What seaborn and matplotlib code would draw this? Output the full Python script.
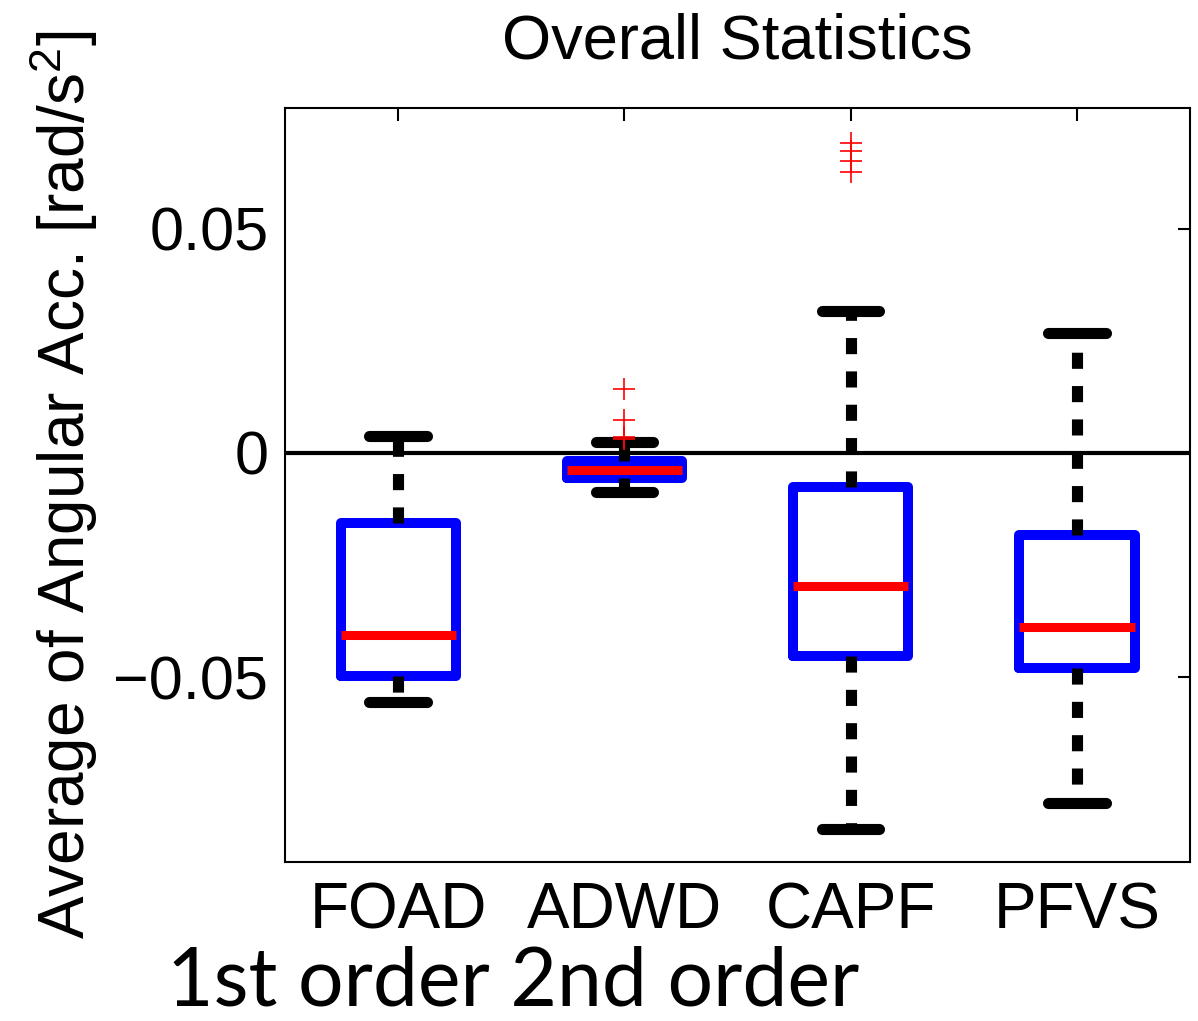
import pandas as pd
import seaborn as sns
import matplotlib.pyplot as plt

# box summary values
methods = ["FOAD", "ADWD", "CAPF", "PFVS"]
whisker_lo = [-0.0556, -0.0087, -0.0839, -0.0781]
q1 = [-0.0498, -0.0056, -0.0453, -0.0480]
median = [-0.0406, -0.0038, -0.0297, -0.0388]
q3 = [-0.0156, -0.0018, -0.0076, -0.0183]
whisker_hi = [0.0038, 0.0025, 0.0317, 0.0268]

outlier_method = ["ADWD", "ADWD", "ADWD", "ADWD", "CAPF", "CAPF", "CAPF", "CAPF"]
outlier_value = [0.0143, 0.0074, 0.0036, 0.0031, 0.0692, 0.0674, 0.0652, 0.0627]

ytick_values = [-0.05, 0, 0.05]
ytick_labels = ["\u22120.05", "0", "0.05"]

# five points per method -> quartiles land exactly on the read values
rows = []
for i, m in enumerate(methods):
    for v in [whisker_lo[i], q1[i], median[i], q3[i], whisker_hi[i]]:
        rows.append({"method": m, "value": v})
df = pd.DataFrame(rows)
df_out = pd.DataFrame({"method": outlier_method, "value": outlier_value})

sns.set_style("white")
plt.rcParams["font.family"] = ["Liberation Sans", "DejaVu Sans"]
plt.rcParams["mathtext.fontset"] = "custom"
plt.rcParams["mathtext.rm"] = "Liberation Sans"
plt.rcParams["mathtext.it"] = "Liberation Sans"
for k in ["text.color", "axes.labelcolor", "xtick.color", "ytick.color"]:
    plt.rcParams[k] = "black"

fig = plt.figure(figsize=(11.98, 10.21), dpi=100)
ax = fig.add_axes([0.238, 0.1557, 0.7553, 0.7385])

ax.axhline(0, color="black", linewidth=3, zorder=1)

sns.boxplot(
    data=df, x="method", y="value", order=methods, ax=ax,
    whis=(0, 100), width=0.51, fill=False, color="blue",
    boxprops=dict(color="blue", linewidth=7.2),
    medianprops=dict(color="red", linewidth=6.5),
    whiskerprops=dict(color="black", linewidth=8, linestyle=(0, (1.45, 1.55))),
    capprops=dict(color="black", linewidth=8),
    showfliers=False,
)

# outliers as red plus signs
sns.stripplot(
    data=df_out, x="method", y="value", order=methods, ax=ax,
    jitter=False, marker="+", s=16, linewidth=1.2, color="red", zorder=5,
)

ax.set_xlim(-0.5, 3.5)
ax.set_ylim(-0.0913, 0.077)
ax.set_yticks(ytick_values)
ax.set_yticklabels(ytick_labels)
ax.tick_params(axis="both", direction="in", length=9, width=1.5,
               labelsize=44, top=True, right=True, color="black", labelcolor="black")
ax.tick_params(axis="y", pad=12)
ax.tick_params(axis="x", pad=14, labelsize=46)
for s in ax.spines.values():
    s.set_visible(True)
    s.set_linewidth(1.5)
    s.set_color("black")

ax.set_xlabel("")
ax.set_ylabel("Average of Angular Acc. [rad/s$^2$]", fontsize=46, color="black")
ax.yaxis.set_label_coords(-0.205, 0.5)
ax.set_title("Overall Statistics", fontsize=45.5, pad=36, color="black")

fig.text(0.139, 0.001, "1st order 2nd order", fontsize=58,
         family=["Lato", "DejaVu Sans"], va="bottom", ha="left", color="black")

plt.savefig("out.png", dpi=100)
